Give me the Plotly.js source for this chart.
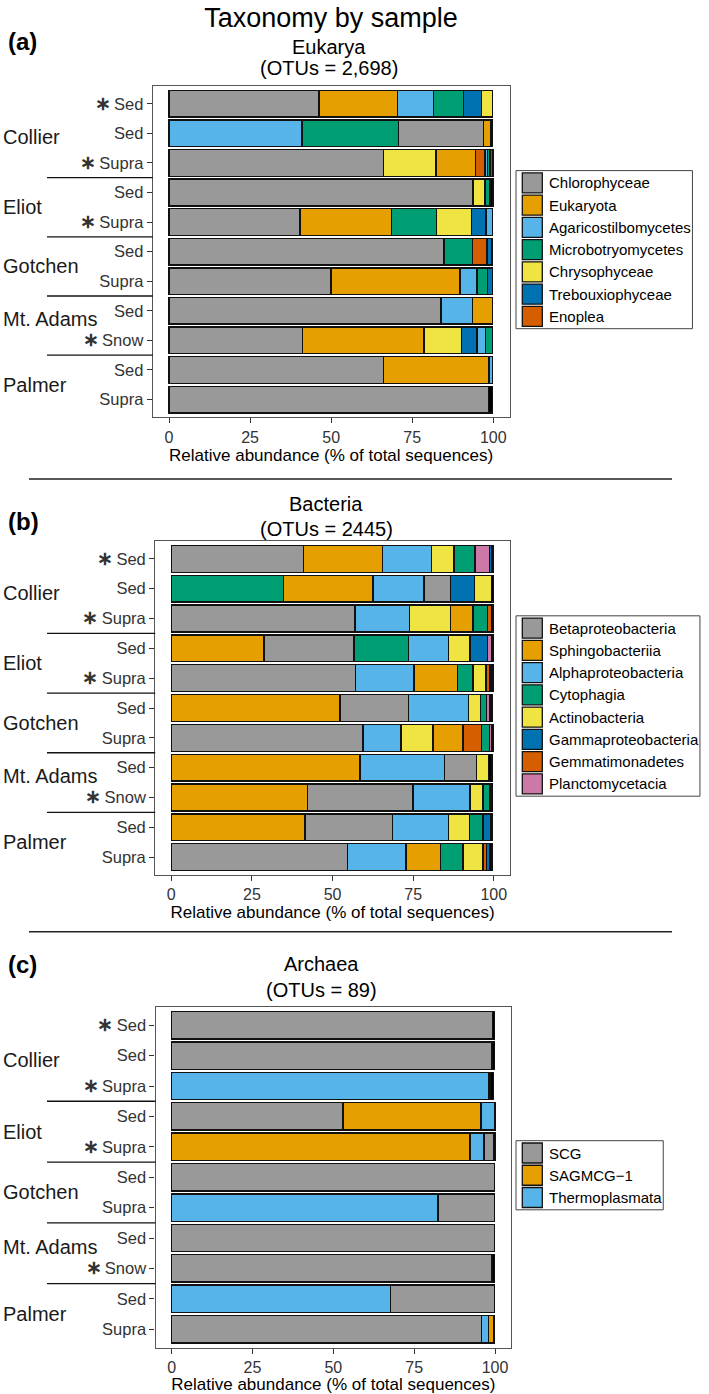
<!DOCTYPE html>
<html><head><meta charset="utf-8">
<script src="https://cdn.plot.ly/plotly-3.0.1.min.js"></script>
<style>html,body{margin:0;padding:0;background:#fff}#chart{width:709px;height:1394px}</style>
</head><body><div id="chart"></div>
<script>
// ---------------- data ----------------
const sampleTypes = ['Sed','Sed','Supra','Sed','Supra','Sed','Supra','Sed','Snow','Sed','Supra'];
const starred     = [true,false,true,false,true,false,false,false,true,false,false];
const sampleSites = ['Collier','Collier','Collier','Eliot','Eliot','Gotchen','Gotchen','Mt. Adams','Mt. Adams','Palmer','Palmer'];
const xTicks = [0,25,50,75,100];

// Eukarya (% of sequences), one value per sample (top to bottom)
const eukTaxa = ['Chlorophyceae','Eukaryota','Agaricostilbomycetes','Microbotryomycetes','Chrysophyceae','Trebouxiophyceae','Enoplea'];
const chlorophyceae        = [46.3, 26.2, 66.1, 93.8, 40.4, 84.8, 49.9, 83.9, 41.2, 66.1, 98.5];
const eukaryota            = [24.2,  2.3, 12.3,  0,   28.3,  0,   39.8,  6.3, 37.4, 32.6,  0];
const agaricostilbomycetes = [11.1, 41.0,  0.9,  0,    2.0,  0.3,  5.3,  9.6,  2.6,  1.0,  0];
const microbotryomycetes   = [ 9.2, 29.8,  0.7,  1.6, 13.8,  8.8,  3.3,  0,    2.1,  0,    0];
const chrysophyceae        = [ 3.5,  0,   16.2,  3.6, 10.8,  0,    0,    0,   11.6,  0,    0];
const trebouxiophyceae     = [ 5.5,  0,    0.7,  0,    4.4,  1.4,  1.5,  0,    4.8,  0,    0];
const enoplea              = [ 0,    0.4,  2.8,  0,    0,    4.5,  0,    0,    0,    0,    0];
const otherEuk             = [ 0,    0,    0.3,  0.9,  0,    0,    0,    0,    0,    0,    1.2];

// Bacteria
const bacTaxa = ['Betaproteobacteria','Sphingobacteriia','Alphaproteobacteria','Cytophagia','Actinobacteria','Gammaproteobacteria','Gemmatimonadetes','Planctomycetacia'];
const betaproteobacteria  = [40.9,  8.2, 57.0, 28.0, 57.1, 21.2, 59.5, 10.0, 32.7, 27.0, 54.6];
const sphingobacteriia    = [24.5, 27.9,  7.0, 28.7, 13.5, 52.3,  9.4, 58.5, 42.3, 41.5, 10.7];
const alphaproteobacteria = [15.3, 15.8, 16.8, 12.4, 18.2, 18.6, 11.7, 26.2, 17.6, 17.4, 18.2];
const cytophagia          = [ 6.5, 34.7,  4.5, 16.8,  4.8,  1.9,  2.4,  0,    2.1,  4.2,  7.0];
const actinobacteria      = [ 7.0,  5.3, 12.7,  6.7,  4.0,  3.8,  9.9,  3.6,  4.1,  6.5,  6.1];
const gammaproteobacteria = [ 0.9,  7.4,  0,    5.4,  0.7,  0.6,  0,    0,    0,    2.4,  0.8];
const gemmatimonadetes    = [ 0,    0,    1.5,  0,    1.2,  0,    5.7,  0,    0,    0,    1.2];
const planctomycetacia    = [ 4.4,  0,    0,    1.5,  0,    0.8,  0.9,  0,    0,    0,    0];
const otherBac            = [ 0.5,  0.7,  0.5,  0.5,  0.5,  0.3,  0.5,  1.2,  0.7,  0.5,  0.9];

// Archaea
const arcTaxa = ['SCG','SAGMCG\u22121','Thermoplasmata'];
const scg            = [99.3, 99.0,  0,   53.0,  3.1, 99.8, 17.4, 99.8, 99.0, 32.2, 95.9];
const sagmcg1        = [ 0,    0,    0.4, 42.6, 92.2,  0,    0,    0,    0,    0,    1.5];
const thermoplasmata = [ 0,    0,   98.0,  4.4,  4.4,  0,   82.4,  0,    0,   67.6,  2.1];
const otherArc       = [ 0.5,  0.8,  1.2,  0,    0.3,  0,    0,    0,    0.8,  0,    0.3];

// ---------------- style ----------------
const W = 709, H = 1394;
const FONT = 'Liberation Sans, Arial, Helvetica, sans-serif';
const palette = ['#999999','#E69F00','#56B4E9','#009E73','#F0E442','#0072B2','#D55E00','#CC79A7'];
const otherColor = '#000000';
const px = x => x / W;
const py = y => 1 - y / H;
// small vertical nudges of the site labels (in rows), as in the reference
const siteLabelNudge = {'Collier': 0.13, 'Mt. Adams': -0.22};

const panels = [
  {key:'', taxa:eukTaxa, vals:[chlorophyceae,eukaryota,agaricostilbomycetes,microbotryomycetes,chrysophyceae,trebouxiophyceae,enoplea], other:otherEuk,
   box:[152.8,509.5,86,417.3], letter:'(a)', letterY:41, sub:'Eukarya', otus:'(OTUs = 2,698)', subX:329, subY:47, otusY:68, sepY:479},
  {key:'2', taxa:bacTaxa, vals:[betaproteobacteria,sphingobacteriia,alphaproteobacteria,cytophagia,actinobacteria,gammaproteobacteria,gemmatimonadetes,planctomycetacia], other:otherBac,
   box:[155.2,509.9,541,875], letter:'(b)', letterY:521, sub:'Bacteria', otus:'(OTUs = 2445)', subX:326, subY:503.5, otusY:529, sepY:931.7},
  {key:'3', taxa:arcTaxa, vals:[scg,sagmcg1,thermoplasmata], other:otherArc,
   box:[155.5,511.2,1007,1347.5], letter:'(c)', letterY:964, sub:'Archaea', otus:'(OTUs = 89)', subX:321, subY:963.5, otusY:989.5, sepY:null}
];

const nS = sampleTypes.length;
const rows = sampleTypes.map((_, i) => i);
const tickText = sampleTypes.map((t, i) => starred[i] ? '<span style="font-size:19px;font-weight:bold">\u2217</span>\u2009' + t : t);

// text measuring for legend boxes
const cvs = document.createElement('canvas').getContext('2d');
function textW(s, size) { cvs.font = size + 'px "Liberation Sans", Arial, sans-serif'; return cvs.measureText(s).width; }

const data = [], shapes = [], annotations = [];
const layout = {
  width: W, height: H, margin: {l:0, r:0, t:0, b:0},
  paper_bgcolor: '#fff', plot_bgcolor: '#fff',
  barmode: 'stack', bargap: 0.1, showlegend: false,
  font: {family: FONT, color: '#000'},
  title: {text: 'Taxonomy by sample', font: {size: 27, color: '#000', family: FONT},
          x: px(331), xref: 'paper', xanchor: 'center', y: py(18), yref: 'paper', yanchor: 'middle'},
  shapes: shapes, annotations: annotations
};

panels.forEach((p, pi) => {
  const xa = 'x' + p.key, ya = 'y' + p.key;
  const [L, R, T, B] = p.box;
  // per-sample ordering: taxa by descending abundance, "other" last
  const orders = rows.map(i => {
    const idx = p.taxa.map((_, k) => k).filter(k => p.vals[k][i] > 0);
    idx.sort((a, b) => p.vals[b][i] - p.vals[a][i]);
    if (p.other[i] > 0) idx.push(-1);
    return idx;
  });
  const maxLen = Math.max(...orders.map(o => o.length));
  for (let r = 0; r < maxLen; r++) {
    const xs = [], cs = [], names = [];
    rows.forEach(i => {
      const k = orders[i][r];
      if (k === undefined) { xs.push(null); cs.push('#fff'); names.push(''); }
      else if (k === -1) { xs.push(p.other[i]); cs.push(otherColor); names.push('Other'); }
      else { xs.push(p.vals[k][i]); cs.push(palette[k]); names.push(p.taxa[k]); }
    });
    data.push({type:'bar', orientation:'h', x: xs, y: rows, xaxis: xa, yaxis: ya, width: 0.9,
      marker: {color: cs, line: {color: '#111', width: 1.4}}, text: names, textposition: 'none',
      hovertemplate: '%{text}: %{x}%<extra></extra>'});
  }
  const xName = 'xaxis' + p.key, yName = 'yaxis' + p.key;
  layout[xName] = {domain: [px(L), px(R)], anchor: ya, range: [-5, 105], tickvals: xTicks, ticktext: xTicks.map(String),
    ticks: 'outside', ticklen: 5, tickwidth: 1, tickcolor: '#333', showgrid: false, zeroline: false,
    showline: true, mirror: true, linecolor: '#555', linewidth: 1.2,
    tickfont: {size: 16, color: '#333', family: FONT},
    title: {text: 'Relative abundance (% of total sequences)', font: {size: 17, color: '#000', family: FONT}, standoff: 3},
    automargin: false, fixedrange: true};
  layout[yName] = {domain: [py(B), py(T)], anchor: xa, range: [nS - 0.4, -0.6], tickvals: rows, ticktext: tickText,
    ticks: 'outside', ticklen: 5, tickwidth: 1, tickcolor: '#333', showgrid: false, zeroline: false,
    showline: true, mirror: true, linecolor: '#555', linewidth: 1.2,
    tickfont: {size: 16.5, color: '#333', family: FONT}, automargin: false, fixedrange: true};

  // site labels and separators
  const siteNames = [...new Set(sampleSites)];
  siteNames.forEach(s => {
    const idx = rows.filter(i => sampleSites[i] === s);
    const c = idx.reduce((a, b) => a + b, 0) / idx.length + (siteLabelNudge[s] || 0);
    annotations.push({text: s, xref: 'paper', yref: ya, x: px(1), y: c, xanchor: 'left', yanchor: 'middle',
      showarrow: false, font: {size: 20, color: '#1a1a1a', family: FONT}});
  });
  rows.forEach(i => {
    if (i > 0 && sampleSites[i] !== sampleSites[i - 1]) {
      shapes.push({type: 'line', xref: 'paper', yref: ya, x0: px(47), x1: px(L), y0: i - 0.5, y1: i - 0.5,
        line: {color: '#111', width: 1.3}});
    }
  });

  // panel letter, subtitles
  annotations.push({text: '<b>' + p.letter + '</b>', xref: 'paper', yref: 'paper', x: px(6), y: py(p.letterY),
    xanchor: 'left', yanchor: 'middle', showarrow: false, font: {size: 24, color: '#000', family: FONT}});
  annotations.push({text: p.sub, xref: 'paper', yref: 'paper', x: px(p.subX), y: py(p.subY),
    xanchor: 'center', yanchor: 'middle', showarrow: false, font: {size: 20, color: '#000', family: FONT}});
  annotations.push({text: p.otus, xref: 'paper', yref: 'paper', x: px(p.subX), y: py(p.otusY),
    xanchor: 'center', yanchor: 'middle', showarrow: false, font: {size: 20, color: '#000', family: FONT}});
  if (p.sepY) shapes.push({type: 'line', xref: 'paper', yref: 'paper', x0: px(29), x1: px(672), y0: py(p.sepY), y1: py(p.sepY),
    line: {color: '#222', width: 1.5}});

  // legend (drawn from the taxa names and palette)
  const step = 22.25, sw = 20, pad = 2.3, lx = 516;
  const lh = pad * 2 + (p.taxa.length - 1) * step + sw;
  const top = (T + B) / 2 - lh / 2 - 2;
  const maxW = Math.max(...p.taxa.map(t => textW(t, 15)));
  shapes.push({type: 'rect', xref: 'paper', yref: 'paper', x0: px(lx), x1: px(546.7 + maxW + 4), y0: py(top), y1: py(top + lh),
    line: {color: '#444', width: 1}, fillcolor: 'rgba(0,0,0,0)'});
  p.taxa.forEach((t, k) => {
    const sy = top + pad + k * step;
    shapes.push({type: 'rect', xref: 'paper', yref: 'paper', x0: px(522.3), x1: px(542.3), y0: py(sy), y1: py(sy + sw),
      line: {color: '#111', width: 1.3}, fillcolor: palette[k]});
    annotations.push({text: t, xref: 'paper', yref: 'paper', x: px(546.7), y: py(sy + sw / 2), xanchor: 'left', yanchor: 'middle',
      showarrow: false, font: {size: 15, color: '#000', family: FONT}});
  });
});

Plotly.newPlot('chart', data, layout, {displayModeBar: false, responsive: false});
</script>
</body></html>
